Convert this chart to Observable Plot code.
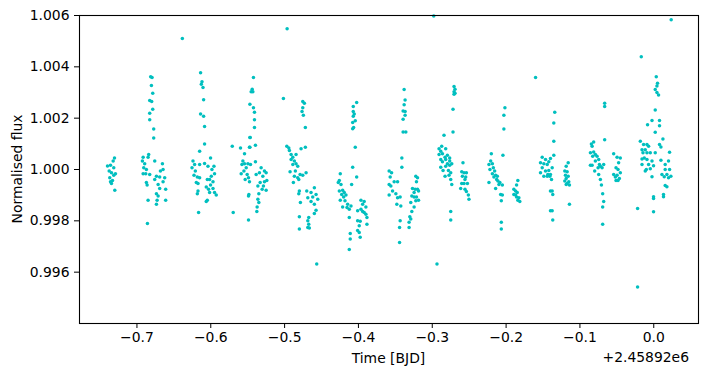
<!DOCTYPE html>
<html><head><meta charset="utf-8">
<script src="https://cdn.jsdelivr.net/npm/d3@7"></script>
<script src="https://cdn.jsdelivr.net/npm/@observablehq/plot@0.6"></script>
<style>
body{margin:0;background:#fff;}
#chart{width:709px;height:376px;}
</style></head><body><div id="chart"></div>
<script>
// Time offsets (days, relative to 2458920) and normalised flux
const visit01 = [[-0.7322,1.00033],[-0.7358,1.00017],[-0.7314,1.00007],[-0.7376,0.99994],[-0.7345,0.99987],[-0.7314,0.99978],[-0.7368,0.99968],[-0.7331,0.99957],[-0.7345,0.99945],[-0.7300,0.99919],[-0.7399,1.00014],[-0.7291,0.99983],[-0.7358,0.99952],[-0.7304,1.00045]];
const visit02 = [[-0.6814,1.00361],[-0.6795,1.00358],[-0.6804,1.00327],[-0.6786,1.00297],[-0.6827,1.00269],[-0.6800,1.00265],[-0.6786,1.00235],[-0.6827,1.00219],[-0.6827,1.00194],[-0.6773,1.00158],[-0.6773,1.00123],
[-0.6916,1.00048],[-0.6841,1.00058],[-0.6849,1.00048],[-0.6926,1.00033],[-0.6895,1.00022],[-0.6908,1.00007],[-0.6872,1.00000],[-0.6916,0.99983],[-0.6881,0.99983],[-0.6827,0.99981],[-0.6759,1.00033],[-0.6655,1.00022],[-0.6646,1.00000],[-0.6682,0.99994],[-0.6736,0.99974],[-0.6692,0.99971],[-0.6624,0.99968],[-0.6646,0.99952],[-0.6759,0.99961],[-0.6872,0.99949],[-0.6862,0.99940],[-0.6713,0.99942],[-0.6692,0.99926],[-0.6611,0.99923],[-0.6736,0.99906],[-0.6713,0.99897],[-0.6849,0.99880],[-0.6727,0.99880],[-0.6611,0.99880],[-0.6736,0.99865],[-0.6858,0.99790]];
const visit03 = [[-0.6385,1.00510],[-0.6138,1.00377],[-0.6119,1.00342],[-0.6128,1.00332],[-0.6105,1.00319],[-0.6097,1.00272],[-0.6138,1.00216],[-0.6097,1.00207],[-0.6084,1.00168],[-0.6084,1.00099],[-0.6151,1.00071],[-0.6084,1.00023],[-0.6003,1.00045],
[-0.6241,1.00033],[-0.6219,1.00019],[-0.6254,1.00007],[-0.6209,0.99994],[-0.6227,0.99978],[-0.6182,0.99971],[-0.6151,1.00019],[-0.6196,0.99949],[-0.6173,0.99945],[-0.6151,0.99968],[-0.6173,0.99916],[-0.6182,0.99906],[-0.6038,1.00013],[-0.5957,1.00013],[-0.5984,1.00000],[-0.5949,0.99983],[-0.5993,0.99974],[-0.6016,0.99961],[-0.6047,0.99961],[-0.5970,0.99952],[-0.6003,0.99940],[-0.6061,0.99932],[-0.6030,0.99923],[-0.5970,0.99926],[-0.6016,0.99910],[-0.5949,0.99910],[-0.5926,0.99901],[-0.6047,0.99880],[-0.6061,0.99875],[-0.6165,0.99832]];
const visit04 = [[-0.5709,1.00091],[-0.5597,1.00084],[-0.5543,1.00061],[-0.5470,1.00087],[-0.5470,1.00125],[-0.5453,1.00303],[-0.5470,1.00254],[-0.5565,1.00033],[-0.5543,1.00022],[-0.5578,1.00019],[-0.5520,1.00007],[-0.5551,0.99994],[-0.5588,0.99983],[-0.5507,0.99981],[-0.5489,0.99968],[-0.5534,0.99961],[-0.5476,0.99952],[-0.5489,0.99897],[-0.5696,0.99832],[-0.5489,0.99803],
[-0.5422,1.00358],[-0.5439,1.00313],[-0.5430,1.00303],[-0.5422,1.00241],[-0.5408,1.00223],[-0.5408,1.00194],[-0.5408,1.00164],[-0.5466,1.00125],[-0.5395,1.00094],[-0.5476,1.00087],[-0.5395,1.00030],[-0.5497,1.00022],[-0.5462,1.00019],[-0.5484,0.99903],
[-0.5318,1.00007],[-0.5273,0.99994],[-0.5341,0.99987],[-0.5250,0.99987],[-0.5385,0.99981],[-0.5295,0.99974],[-0.5241,0.99957],[-0.5273,0.99952],[-0.5331,0.99949],[-0.5287,0.99936],[-0.5362,0.99936],[-0.5250,0.99919],[-0.5304,0.99923],[-0.5349,0.99906],[-0.5362,0.99884],[-0.5349,0.99871],[-0.5372,0.99854],[-0.5376,0.99836]];
const visit05 = [[-0.5016,1.00277],[-0.4966,1.00548],[-0.4754,1.00265],[-0.4732,1.00258],[-0.4754,1.00241],[-0.4764,1.00226],[-0.4746,1.00211],[-0.4719,1.00164],[-0.4719,1.00087],[-0.4777,1.00081],
[-0.4970,1.00091],[-0.4943,1.00084],[-0.4935,1.00074],[-0.4912,1.00058],[-0.4845,1.00058],[-0.4889,1.00048],[-0.4912,1.00039],[-0.4868,1.00033],[-0.4845,1.00022],[-0.4889,1.00019],[-0.4822,1.00013],[-0.4926,0.99991],[-0.4854,0.99994],[-0.4709,0.99987],[-0.4790,0.99981],[-0.4868,0.99974],[-0.4822,0.99968],[-0.4754,0.99978],[-0.4881,0.99949],[-0.4808,0.99961],
[-0.4800,0.99916],[-0.4808,0.99906],[-0.4786,0.99871],[-0.4800,0.99816],[-0.4800,0.99768],
[-0.4700,0.99916],[-0.4597,0.99929],[-0.4642,0.99910],[-0.4574,0.99903],[-0.4619,0.99893],[-0.4551,0.99884],[-0.4686,0.99890],[-0.4642,0.99875],[-0.4597,0.99865],[-0.4574,0.99841],[-0.4597,0.99829],[-0.4673,0.99813],[-0.4686,0.99800],[-0.4673,0.99787],[-0.4686,0.99774],[-0.4665,0.99772],[-0.4565,0.99632]];
const visit06 = [[-0.4024,1.00261],[-0.4070,1.00245],[-0.4070,1.00226],[-0.4057,1.00216],[-0.4070,1.00207],[-0.4043,1.00190],[-0.4078,1.00183],[-0.4065,1.00164],[-0.4078,1.00159],[-0.4043,1.00087],[-0.4078,1.00009],[-0.4024,0.99971],[-0.4092,0.99942],
[-0.4246,0.99983],[-0.4259,0.99957],[-0.4273,0.99949],[-0.4236,0.99942],[-0.4259,0.99916],[-0.4214,0.99919],[-0.4227,0.99903],[-0.4192,0.99910],[-0.4169,0.99901],[-0.4200,0.99893],[-0.4246,0.99880],[-0.4182,0.99878],[-0.4146,0.99865],[-0.4214,0.99854],[-0.4155,0.99852],[-0.4124,0.99845],[-0.4101,0.99858],[-0.4124,0.99813],[-0.4111,0.99751],[-0.4111,0.99729],[-0.4124,0.99688],
[-0.3966,0.99880],[-0.3922,0.99875],[-0.3943,0.99865],[-0.3899,0.99854],[-0.3966,0.99845],[-0.3943,0.99836],[-0.4011,0.99839],[-0.3899,0.99826],[-0.3922,0.99832],[-0.3885,0.99813],[-0.3976,0.99798],[-0.4011,0.99800],[-0.3989,0.99781],[-0.4011,0.99762],[-0.3989,0.99755],[-0.3976,0.99736],[-0.3885,0.99787]];
const visit07 = [[-0.3381,1.00312],[-0.3368,1.00271],[-0.3381,1.00252],[-0.3395,1.00228],[-0.3368,1.00226],[-0.3368,1.00211],[-0.3395,1.00196],[-0.3395,1.00146],[-0.3358,1.00146],[-0.3412,1.00045],[-0.3412,1.00009],
[-0.3584,0.99994],[-0.3551,0.99987],[-0.3570,0.99971],[-0.3516,0.99952],[-0.3584,0.99942],[-0.3561,0.99936],[-0.3538,0.99916],[-0.3584,0.99901],[-0.3493,0.99906],[-0.3470,0.99890],[-0.3435,0.99893],[-0.3480,0.99865],[-0.3426,0.99858],[-0.3435,0.99800],[-0.3443,0.99774],[-0.3443,0.99716],[-0.3470,0.99952],
[-0.3223,0.99974],[-0.3200,0.99968],[-0.3214,0.99952],[-0.3268,0.99926],[-0.3232,0.99923],[-0.3200,0.99923],[-0.3246,0.99910],[-0.3186,0.99916],[-0.3277,0.99897],[-0.3246,0.99893],[-0.3214,0.99893],[-0.3223,0.99878],[-0.3186,0.99880],[-0.3291,0.99871],[-0.3246,0.99854],[-0.3277,0.99836],[-0.3304,0.99816],[-0.3291,0.99807],[-0.3314,0.99794],[-0.3314,0.99774]];
const visit08 = [[-0.2705,1.00323],[-0.2692,1.00313],[-0.2705,1.00303],[-0.2692,1.00297],[-0.2705,1.00293],[-0.2719,1.00235],[-0.2719,1.00146],[-0.2841,1.00133],[-0.2936,0.99632],[-0.2980,1.00598],
[-0.2908,1.00081],[-0.2872,1.00091],[-0.2818,1.00081],[-0.2885,1.00071],[-0.2908,1.00058],[-0.2862,1.00061],[-0.2795,1.00056],[-0.2827,1.00048],[-0.2764,1.00045],[-0.2885,1.00039],[-0.2818,1.00039],[-0.2764,1.00033],[-0.2862,1.00030],[-0.2795,1.00022],[-0.2736,1.00022],[-0.2818,1.00013],[-0.2764,1.00017],[-0.2885,1.00009],[-0.2854,0.99996],[-0.2781,0.99996],[-0.2750,0.99987],[-0.2827,0.99974],[-0.2773,0.99978],[-0.2750,0.99961],[-0.2736,0.99942],[-0.2750,0.99836],[-0.2750,0.99803],
[-0.2584,1.00026],[-0.2601,0.99991],[-0.2570,0.99987],[-0.2538,0.99987],[-0.2592,0.99974],[-0.2547,0.99971],[-0.2557,0.99961],[-0.2601,0.99945],[-0.2570,0.99945],[-0.2524,0.99945],[-0.2615,0.99926],[-0.2557,0.99923],[-0.2538,0.99914],[-0.2511,0.99901],[-0.2503,0.99884]];
const visit09 = [[-0.2016,1.00241],[-0.2030,1.00211],[-0.2030,1.00158],[-0.2043,1.00056],[-0.1601,1.00358],
[-0.2200,1.00061],[-0.2209,1.00033],[-0.2232,1.00019],[-0.2186,1.00022],[-0.2173,1.00007],[-0.2219,1.00000],[-0.2155,0.99994],[-0.2186,0.99983],[-0.2142,0.99978],[-0.2119,0.99974],[-0.2165,0.99971],[-0.2128,0.99961],[-0.2111,0.99955],[-0.2084,0.99949],[-0.2051,0.99940],[-0.2097,0.99942],[-0.2232,0.99949],[-0.2142,0.99926],[-0.2074,0.99903],[-0.2051,0.99901],[-0.2065,0.99878],[-0.2065,0.99794],[-0.2065,0.99768],
[-0.1841,0.99957],[-0.1858,0.99940],[-0.1895,0.99923],[-0.1872,0.99916],[-0.1849,0.99910],[-0.1895,0.99903],[-0.1858,0.99893],[-0.1827,0.99890],[-0.1841,0.99880],[-0.1814,0.99875],[-0.1872,0.99901]];
const visit10 = [[-0.1511,1.00048],[-0.1534,1.00026],[-0.1489,1.00022],[-0.1466,1.00039],[-0.1443,1.00019],[-0.1511,1.00007],[-0.1534,0.99987],[-0.1466,0.99994],[-0.1435,0.99981],[-0.1408,0.99974],[-0.1489,0.99974],[-0.1399,0.99916],[-0.1399,0.99839],
[-0.1341,1.00223],[-0.1354,1.00181],[-0.1354,1.00110],[-0.1354,1.00056],[-0.1399,1.00043],[-0.1422,1.00030],[-0.1376,1.00007],[-0.1422,0.99996],[-0.1399,0.99981],[-0.1443,0.99974],[-0.1385,0.99961],[-0.1376,0.99916],[-0.1368,0.99903],[-0.1376,0.99839],[-0.1368,0.99803],
[-0.1159,1.00026],[-0.1186,1.00013],[-0.1205,0.99994],[-0.1173,0.99991],[-0.1196,0.99978],[-0.1159,0.99974],[-0.1186,0.99965],[-0.1205,0.99955],[-0.1151,0.99952],[-0.1173,0.99945],[-0.1142,0.99940],[-0.1186,0.99942],[-0.1142,0.99865]];
const visit11 = [[-0.0665,1.00258],[-0.0665,1.00245],[-0.0665,1.00116],
[-0.0845,1.00099],[-0.0814,1.00107],[-0.0835,1.00091],[-0.0858,1.00065],[-0.0814,1.00068],[-0.0791,1.00058],[-0.0827,1.00052],[-0.0768,1.00052],[-0.0746,1.00039],[-0.0791,1.00033],[-0.0736,1.00019],[-0.0835,1.00017],[-0.0723,1.00013],[-0.0678,1.00019],[-0.0754,1.00007],[-0.0700,1.00007],[-0.0800,0.99994],[-0.0746,0.99981],[-0.0723,0.99961],[-0.0709,0.99940],[-0.0692,0.99906],[-0.0678,0.99875],[-0.0692,0.99854],[-0.0692,0.99787],[-0.0858,1.00017],
[-0.0543,1.00061],[-0.0497,1.00048],[-0.0453,1.00045],[-0.0476,1.00026],[-0.0511,1.00007],[-0.0484,1.00000],[-0.0453,0.99987],[-0.0543,0.99981],[-0.0497,0.99978],[-0.0520,0.99971],[-0.0466,0.99965],[-0.0484,0.99957],[-0.0511,0.99957]];
const visit12 = [[0.0236,1.00583],[-0.0169,1.00439],[-0.0219,0.99542],[-0.0219,0.99848],[-0.0003,0.99835],
[0.0034,1.00361],[0.0051,1.00336],[0.0043,1.00325],[0.0020,1.00312],[0.0043,1.00300],[0.0065,1.00290],[0.0020,1.00232],[-0.0084,1.00174],[-0.0024,1.00191],[0.0078,1.00191],[0.0078,1.00170],[0.0020,1.00145],[0.0124,1.00119],[0.0078,1.00097],[0.0097,1.00088],
[-0.0182,1.00110],[-0.0138,1.00097],[-0.0092,1.00097],[-0.0159,1.00077],[-0.0115,1.00077],[-0.0070,1.00091],[-0.0146,1.00065],[-0.0092,1.00065],[-0.0047,1.00065],[0.0020,1.00065],[-0.0128,1.00045],[-0.0159,1.00041],[-0.0092,1.00039],[-0.0024,1.00033],[-0.0070,1.00019],[-0.0003,1.00015],[-0.0159,1.00019],[-0.0101,1.00000],[-0.0047,1.00003],[-0.0115,0.99994],
[0.0214,1.00067],[0.0200,1.00033],[0.0155,1.00019],[0.0097,1.00036],[0.0155,1.00000],[0.0214,1.00000],[0.0111,0.99981],[0.0178,0.99981],[0.0142,0.99972],[0.0200,0.99968],[0.0232,0.99974],[-0.0024,0.99972],[0.0155,0.99938],[0.0178,0.99933],[-0.0003,0.99894],[-0.0003,0.99887],[0.0132,0.99903],[0.0132,0.99894]];

const xTicks = [-0.7, -0.6, -0.5, -0.4, -0.3, -0.2, -0.1, 0.0];
const yTicks = [0.996, 0.998, 1.000, 1.002, 1.004, 1.006];
const xLabel = "Time [BJD]";
const yLabel = "Normalised flux";
const xOffsetText = "+2.45892e6";

const points = [visit01, visit02, visit03, visit04, visit05, visit06, visit07, visit08, visit09, visit10, visit11, visit12]
  .flat().map(([t, f]) => ({t, f}));

const W = 709, H = 376, mL = 79, mR = 11, mT = 15, mB = 53;
const plot = Plot.plot({
  width: W, height: H, marginLeft: mL, marginRight: mR, marginTop: mT, marginBottom: mB,
  style: {fontFamily: "DejaVu Sans", fontSize: "13.9px", color: "black", background: "white"},
  x: {domain: [-0.7778, 0.0606]},
  y: {domain: [0.994, 1.006]},
  marks: [
    Plot.dot(points, {x: "t", y: "f", r: 1.75, fill: "#00bfbf"}),
    Plot.frame({stroke: "black", strokeWidth: 1.1}),
    Plot.axisX({ticks: xTicks, tickFormat: d3.format(".1f"), tickSize: 5, tickPadding: 4, label: null}),
    Plot.axisY({ticks: yTicks, tickFormat: d3.format(".3f"), tickSize: 5, tickPadding: 5, label: null})
  ]
});
const svg = d3.select(plot);
const cx = (mL + (W - mR)) / 2, cy = (mT + (H - mB)) / 2;
svg.append("text").attr("x", cx).attr("y", 363).attr("text-anchor", "middle")
  .attr("font-size", "13.9px").attr("fill", "black").text(xLabel);
svg.append("text").attr("transform", `translate(22,${cy}) rotate(-90)`).attr("text-anchor", "middle")
  .attr("font-size", "13.9px").attr("fill", "black").text(yLabel);
svg.append("text").attr("x", W - mR - 9).attr("y", 362).attr("text-anchor", "end")
  .attr("font-size", "13.9px").attr("fill", "black").text(xOffsetText);
document.getElementById("chart").appendChild(plot);
</script></body></html>
